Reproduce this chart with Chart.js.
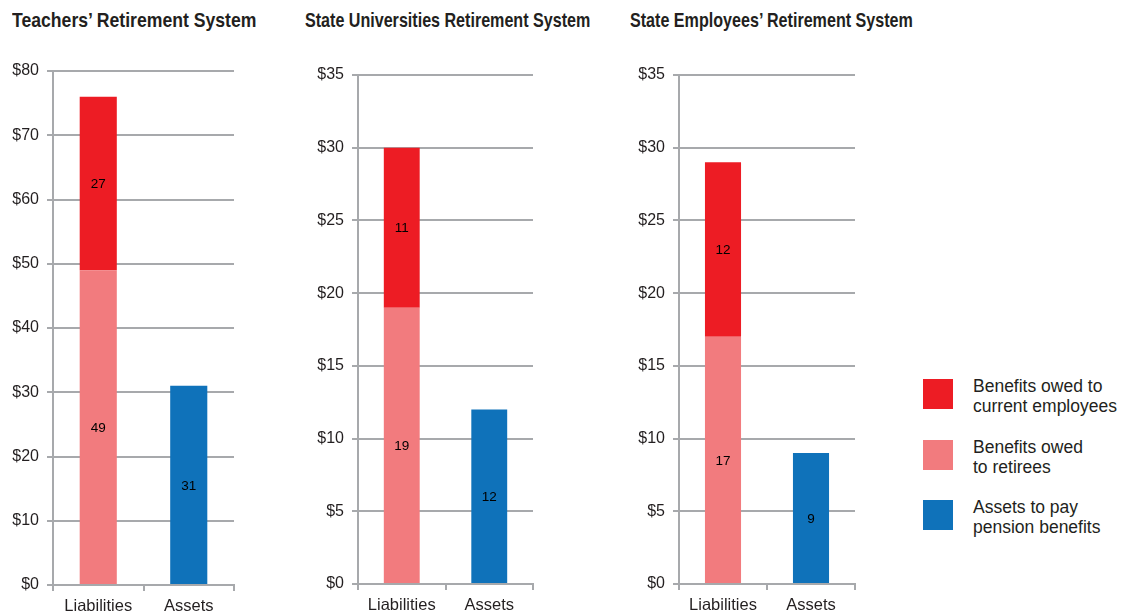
<!DOCTYPE html>
<html>
<head>
<meta charset="utf-8">
<script src="https://cdn.jsdelivr.net/npm/chart.js@4.4.0/dist/chart.umd.min.js"></script>
<style>
body { margin: 0; background: #fff; width: 1121px; height: 613px; position: relative; overflow: hidden;
       font-family: "Liberation Sans", Arial, sans-serif; color: #231f20; }
.titulo { position: absolute; top: 8px; font-family: "Liberation Sans", Arial, sans-serif;
          font-weight: bold; font-size: 21px; line-height: 24px; white-space: nowrap; transform-origin: 0 0; }
.panel { position: absolute; top: 0; }
.leyenda { position: absolute; left: 923px; }
.leyenda .caja { position: absolute; left: 0; top: 0; width: 30px; height: 30px; }
.leyenda .texto { position: absolute; left: 50px; top: -3px; font-size: 17.5px; line-height: 20px; white-space: nowrap; }
</style>
</head>
<body>
<div class="titulo" id="t0" style="left:12px"></div>
<div class="titulo" id="t1" style="left:305px"></div>
<div class="titulo" id="t2" style="left:630px"></div>
<canvas class="panel" id="g0" width="236" height="613" style="left:0px"></canvas>
<canvas class="panel" id="g1" width="235" height="613" style="left:300px"></canvas>
<canvas class="panel" id="g2" width="237" height="613" style="left:620px"></canvas>
<div id="leyenda"></div>
<script>
// datos
const categorias = ["Liabilities", "Assets"];
const sistemas = ["Teachers’ Retirement System", "State Universities Retirement System", "State Employees’ Retirement System"];
const jubilados = [49, 19, 17];
const empleadosActuales = [27, 11, 12];
const activos = [31, 12, 9];
const maximos = [80, 35, 35];
const pasos = [10, 5, 5];
const nombresSeries = [["Benefits owed to", "current employees"], ["Benefits owed", "to retirees"], ["Assets to pay", "pension benefits"]];

const rojo = '#ED1C24';
const rosa = '#F27B7E';
const azul = '#0F72BA';
const gris = '#A7A9AC';
const texto = '#231f20';

// posiciones de cada panel
const disposicion = [
    { eje: 53, arriba: 71, abajo: 28, anchoTitulo: 244 },
    { eje: 58, arriba: 75, abajo: 29, anchoTitulo: 285 },
    { eje: 59, arriba: 75, abajo: 29, anchoTitulo: 283 },
];

Chart.defaults.font.family = '"Liberation Sans", Arial, sans-serif';

const etiquetasValor = {
    id: 'etiquetasValor',
    afterDatasetsDraw(chart) {
        const ctx = chart.ctx;
        ctx.save();
        ctx.font = '13.5px "Liberation Sans", Arial, sans-serif';
        ctx.fillStyle = '#000';
        ctx.textAlign = 'center';
        ctx.textBaseline = 'middle';
        chart.data.datasets.forEach((ds, i) => {
            chart.getDatasetMeta(i).data.forEach((barra, j) => {
                const v = ds.data[j];
                if (v == null) return;
                ctx.fillText(v, barra.x, (barra.y + barra.base) / 2 + 1);
            });
        });
        ctx.restore();
    }
};

sistemas.forEach((nombre, k) => {
    const d = disposicion[k];
    const $titulo = document.querySelector('#t' + k);
    $titulo.textContent = nombre;
    // fuente condensada: se estrecha el titulo hasta su ancho
    $titulo.style.transform = 'scaleX(' + (d.anchoTitulo / $titulo.offsetWidth) + ')';

    new Chart(document.querySelector('#g' + k), {
        type: 'bar',
        data: {
            labels: categorias,
            datasets: [
                { label: 'Benefits owed to retirees', data: [jubilados[k], null], backgroundColor: rosa },
                { label: 'Benefits owed to current employees', data: [empleadosActuales[k], null], backgroundColor: rojo },
                { label: 'Assets to pay pension benefits', data: [null, activos[k]], backgroundColor: azul },
            ]
        },
        plugins: [etiquetasValor],
        options: {
            responsive: false,
            animation: false,
            layout: { padding: { top: d.arriba, right: 2, left: 0, bottom: 0 } },
            plugins: { legend: { display: false }, tooltip: { enabled: false } },
            datasets: { bar: { barPercentage: 0.41, categoryPercentage: 1 } },
            scales: {
                x: {
                    stacked: true,
                    grid: { drawOnChartArea: false, color: gris, lineWidth: 2, tickLength: 6, offset: true },
                    border: { color: gris, width: 2 },
                    ticks: { color: texto, font: { size: 16.5 }, padding: 6 },
                    afterFit: s => { s.height = d.abajo; }
                },
                y: {
                    stacked: true,
                    min: 0,
                    max: maximos[k],
                    ticks: { stepSize: pasos[k], callback: v => '$' + v, color: texto, font: { size: 16 }, padding: 8 },
                    grid: { color: gris, lineWidth: 2, tickLength: 6 },
                    border: { color: gris, width: 2 },
                    afterFit: s => { s.width = d.eje; }
                }
            }
        }
    });
});

// leyenda
const $leyenda = document.querySelector('#leyenda');
const coloresLeyenda = [rojo, rosa, azul];
const arribaLeyenda = [379, 440, 500];
nombresSeries.forEach((lineas, i) => {
    const item = document.createElement('div');
    item.className = 'leyenda';
    item.style.top = arribaLeyenda[i] + 'px';
    item.innerHTML = '<div class="caja" style="background:' + coloresLeyenda[i] + '"></div>' +
        '<div class="texto">' + lineas.join('<br>') + '</div>';
    $leyenda.appendChild(item);
});
</script>
</body>
</html>
